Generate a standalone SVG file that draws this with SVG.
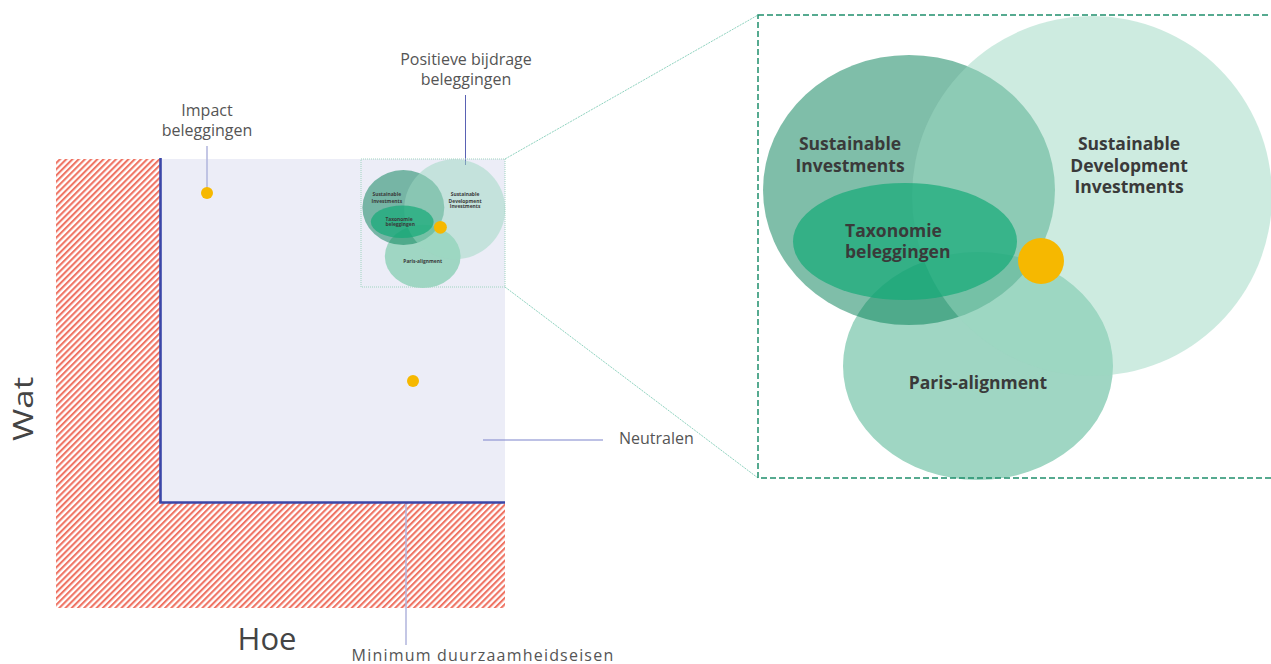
<svg xmlns="http://www.w3.org/2000/svg" width="1271" height="664" viewBox="0 0 1271 664">
  <defs>
    <pattern id="hatch" patternUnits="userSpaceOnUse" width="4.4" height="10" patternTransform="rotate(45)">
      <rect x="0" y="0" width="2.1" height="10" fill="#ef7464"/>
    </pattern>
    <style>
      .lbl { font-family: "Open Sans", "Liberation Sans", sans-serif; fill: #555; font-size: 16px; }
      .axis { font-family: "Open Sans", "Liberation Sans", sans-serif; fill: #444; }
      .vt { font-family: "Open Sans", "Liberation Sans", sans-serif; font-weight: 700; fill: #3a3a3a; font-size: 17.5px; }
      .dot { fill: #f6b800; }
      .pointer { stroke: #b0b4dd; stroke-width: 1.5; fill: none; }
      .zoomline { stroke: #8fd3bf; stroke-width: 1; stroke-dasharray: 2 1; fill: none; }
    </style>
  </defs>

  <g id="hatched-area">
    <path d="M56 159 H160 V503 H505 V608 H56 Z" fill="url(#hatch)"/>
  </g>

  <g id="neutral-area">
    <rect x="161" y="159" width="344" height="343" fill="#ecedf7"/>
    <path d="M160.5 158 V502.5 H505" fill="none" stroke="#3b47a8" stroke-width="2.6"/>
  </g>

  <g id="axes">
    <text class="axis" font-size="28" transform="translate(33,409) rotate(-90) scale(1.25,1)" text-anchor="middle">Wat</text>
    <text class="axis" font-size="31" x="267" y="650" text-anchor="middle">Hoe</text>
  </g>

  <g id="connectors">
    <line class="pointer" x1="207" y1="146" x2="207" y2="190"/>
    <line x1="465.5" y1="95" x2="465.5" y2="165" stroke="#5a62b4" stroke-width="1"/>
    <line x1="483" y1="440" x2="603" y2="440" stroke="#7c84cc" stroke-width="1.2"/>
    <line class="pointer" x1="406" y1="504" x2="406" y2="645"/>
    <line class="zoomline" x1="505" y1="159" x2="758" y2="15"/>
    <line class="zoomline" x1="505" y1="287" x2="758" y2="478"/>
  </g>

  <g id="impact">
    <text class="lbl" text-anchor="middle"><tspan x="207" y="116">Impact</tspan><tspan x="207" y="136">beleggingen</tspan></text>
    <circle class="dot" cx="207" cy="193" r="6"/>
  </g>

  <g id="positieve">
    <text class="lbl" font-size="16.6" text-anchor="middle"><tspan x="466" y="65">Positieve bijdrage</tspan><tspan x="466" y="85">beleggingen</tspan></text>
  </g>

  <g id="neutralen">
    <circle class="dot" cx="413" cy="381" r="6"/>
    <text class="lbl" x="619" y="444">Neutralen</text>
  </g>

  <g id="minimum">
    <text class="lbl" x="483" y="661" font-size="17" letter-spacing="1.2" text-anchor="middle">Minimum duurzaamheidseisen</text>
  </g>

  <g id="venn-small" transform="translate(361,159) scale(0.2805,0.2775) translate(-758,-15)">
    <ellipse cx="978" cy="366" rx="135" ry="114" fill="#9fd6c3"/>
    <ellipse cx="909" cy="190" rx="146" ry="135" fill="#007d53" fill-opacity="0.5"/>
    <circle cx="1092" cy="196" r="180" fill="#9cd7c1" fill-opacity="0.5"/>
    <ellipse cx="905" cy="241.5" rx="112" ry="58.5" fill="#14aa78" fill-opacity="0.7"/>
    <circle cx="1041" cy="261" r="23" fill="#f6b800"/>
    <text class="vt" text-anchor="middle"><tspan x="850" y="150">Sustainable</tspan><tspan x="850" y="172">Investments</tspan></text>
    <text class="vt" text-anchor="middle"><tspan x="1129" y="150">Sustainable</tspan><tspan x="1129" y="172">Development</tspan><tspan x="1129" y="193">Investments</tspan></text>
    <text class="vt"><tspan x="845" y="237">Taxonomie</tspan><tspan x="845" y="258">beleggingen</tspan></text>
    <text class="vt" x="978" y="389" text-anchor="middle">Paris-alignment</text>
  </g>
  <rect x="361" y="159" width="144" height="128" fill="none" stroke="#9fd4c0" stroke-width="1" stroke-dasharray="1 1"/>

  <g id="venn-large">
    <ellipse cx="978" cy="366" rx="135" ry="114" fill="#9fd6c3"/>
    <ellipse cx="909" cy="190" rx="146" ry="135" fill="#007d53" fill-opacity="0.5"/>
    <circle cx="1092" cy="196" r="180" fill="#9cd7c1" fill-opacity="0.5"/>
    <ellipse cx="905" cy="241.5" rx="112" ry="58.5" fill="#14aa78" fill-opacity="0.7"/>
    <circle cx="1041" cy="261" r="23" fill="#f6b800"/>
    <text class="vt" text-anchor="middle"><tspan x="850" y="150">Sustainable</tspan><tspan x="850" y="172">Investments</tspan></text>
    <text class="vt" text-anchor="middle"><tspan x="1129" y="150">Sustainable</tspan><tspan x="1129" y="172">Development</tspan><tspan x="1129" y="193">Investments</tspan></text>
    <text class="vt"><tspan x="845" y="237">Taxonomie</tspan><tspan x="845" y="258">beleggingen</tspan></text>
    <text class="vt" x="978" y="389" text-anchor="middle">Paris-alignment</text>
  </g>
  <rect id="zoom-frame" x="758" y="15" width="520" height="463" fill="none" stroke="#1f8f6c" stroke-width="1.5" stroke-dasharray="6 3"/>
</svg>
